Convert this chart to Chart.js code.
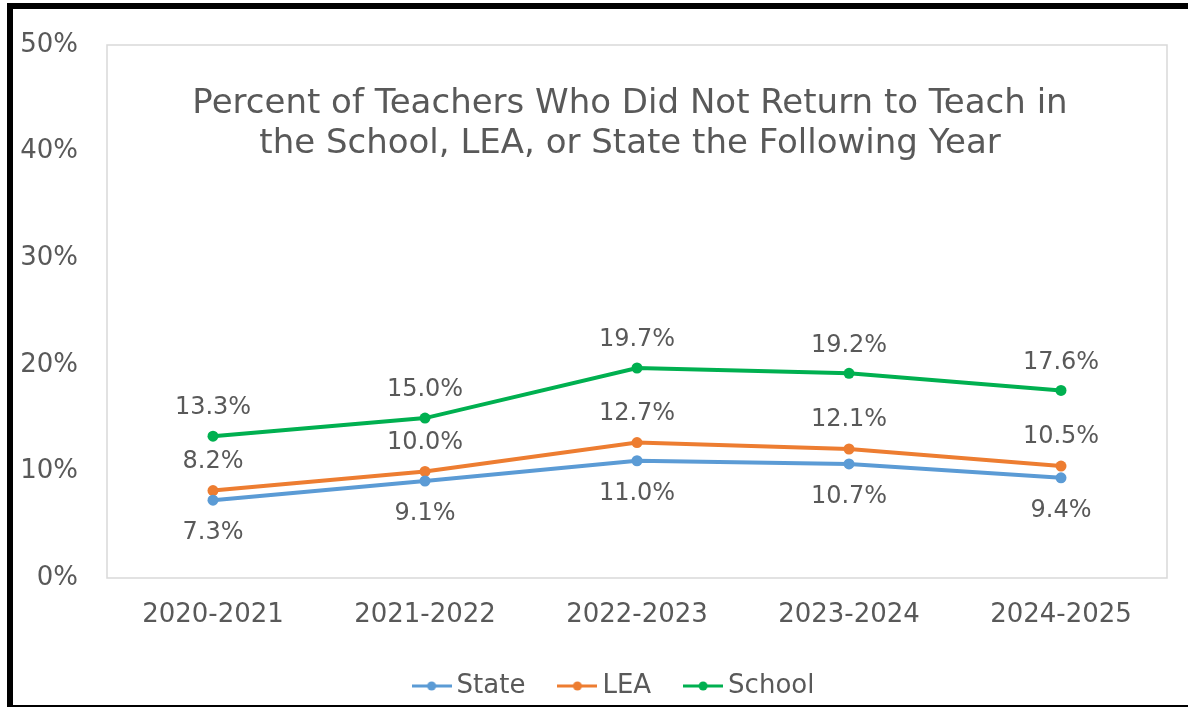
<!DOCTYPE html>
<html>
<head>
<meta charset="utf-8">
<script src="https://cdn.jsdelivr.net/npm/chart.js@4/dist/chart.umd.min.js"></script>
<style>
  html, body { margin: 0; padding: 0; background: #fff; overflow: hidden; }
  #wrap { position: relative; width: 1188px; height: 707px; }
  #frame {
    position: absolute; left: 7px; top: 3px; right: 0; bottom: 0;
    border-top: 6px solid #000; border-left: 6px solid #000; border-bottom: 2px solid #000;
    pointer-events: none;
  }
</style>
</head>
<body>
<div id="wrap">
  <canvas id="chart" width="1188" height="707"></canvas>
  <div id="frame"></div>
</div>
<script>
const years = ['2020-2021', '2021-2022', '2022-2023', '2023-2024', '2024-2025'];
const stateValues = [7.3, 9.1, 11.0, 10.7, 9.4];
const leaValues = [8.2, 10.0, 12.7, 12.1, 10.5];
const schoolValues = [13.3, 15.0, 19.7, 19.2, 17.6];
const yTicks = [0, 10, 20, 30, 40, 50];
const titleLines = ['Percent of Teachers Who Did Not Return to Teach in', 'the School, LEA, or State the Following Year'];

const FONT = '"DejaVu Sans", sans-serif';
const GREY = '#595959';

// little line-with-dot icons for the legend
function legendIcon(color) {
    const c = document.createElement('canvas');
    c.width = 40; c.height = 12;
    const g = c.getContext('2d');
    g.strokeStyle = color; g.lineWidth = 3;
    g.beginPath(); g.moveTo(0, 6); g.lineTo(40, 6); g.stroke();
    g.fillStyle = color;
    g.beginPath(); g.arc(20, 6, 4.5, 0, Math.PI * 2); g.fill();
    return c;
}

const areaBox = {
    id: 'areaBox',
    beforeDatasetsDraw(chart) {
        const a = chart.chartArea, ctx = chart.ctx;
        ctx.save();
        ctx.strokeStyle = '#d9d9d9';
        ctx.lineWidth = 1.5;
        ctx.strokeRect(a.left, a.top, a.right - a.left, a.bottom - a.top);
        ctx.restore();
    }
};

// legend in the original sits a bit left of the plot centre
const legendNudge = {
    id: 'legendNudge',
    afterLayout(chart) {
        if (chart.legend) chart.legend.right -= 40;
    }
};

const innerTitle = {
    id: 'innerTitle',
    afterDraw(chart) {
        const ctx = chart.ctx;
        ctx.save();
        ctx.font = '34px ' + FONT;
        ctx.fillStyle = GREY;
        ctx.textAlign = 'center';
        ctx.textBaseline = 'middle';
        titleLines.forEach((t, i) => ctx.fillText(t, 630, 104 + i * 40));
        ctx.restore();
    }
};

const valueLabels = {
    id: 'valueLabels',
    afterDatasetsDraw(chart) {
        const ctx = chart.ctx;
        const offsets = [33, -29, -28];
        ctx.save();
        ctx.font = '24px ' + FONT;
        ctx.fillStyle = GREY;
        ctx.textAlign = 'center';
        ctx.textBaseline = 'middle';
        chart.data.datasets.forEach((ds, di) => {
            chart.getDatasetMeta(di).data.forEach((pt, i) => {
                ctx.fillText(ds.data[i].toFixed(1) + '%', pt.x, pt.y + offsets[di]);
            });
        });
        ctx.restore();
    }
};

new Chart(document.getElementById('chart'), {
    type: 'line',
    data: {
        labels: years,
        datasets: [
            { label: 'State', data: stateValues, borderColor: '#5b9bd5', backgroundColor: '#5b9bd5' },
            { label: 'LEA', data: leaValues, borderColor: '#ed7d31', backgroundColor: '#ed7d31' },
            { label: 'School', data: schoolValues, borderColor: '#00b050', backgroundColor: '#00b050' }
        ]
    },
    options: {
        responsive: false,
        animation: false,
        layout: { padding: { left: 0, top: 45, right: 21, bottom: -2 } },
        elements: {
            line: { borderWidth: 4, tension: 0 },
            point: { radius: 5.5, borderWidth: 0, hoverRadius: 5.5 }
        },
        scales: {
            x: {
                offset: true,
                grid: { display: false, drawTicks: false, offset: true },
                border: { display: false },
                ticks: { color: GREY, font: { family: FONT, size: 26 }, padding: 22 },
                afterFit(s) { s.height = 55; }
            },
            y: {
                min: 0, max: 50,
                afterBuildTicks(s) { s.ticks = yTicks.map(v => ({ value: v })); },
                grid: { display: false, drawTicks: false },
                border: { display: false },
                ticks: { color: GREY, font: { family: FONT, size: 26 }, padding: 29, callback: v => v + '%' },
                afterFit(s) { s.width = 107; }
            }
        },
        plugins: {
            title: { display: false },
            tooltip: { enabled: false },
            legend: {
                position: 'bottom',
                fullSize: false,
                labels: {
                    color: GREY,
                    font: { family: FONT, size: 26 },
                    usePointStyle: true,
                    pointStyleWidth: 24,
                    padding: 40,
                    generateLabels(chart) {
                        const items = Chart.defaults.plugins.legend.labels.generateLabels(chart);
                        items.forEach(it => { it.pointStyle = legendIcon(chart.data.datasets[it.datasetIndex].borderColor); });
                        return items;
                    }
                }
            }
        }
    },
    plugins: [areaBox, legendNudge, innerTitle, valueLabels]
});
</script>
</body>
</html>
